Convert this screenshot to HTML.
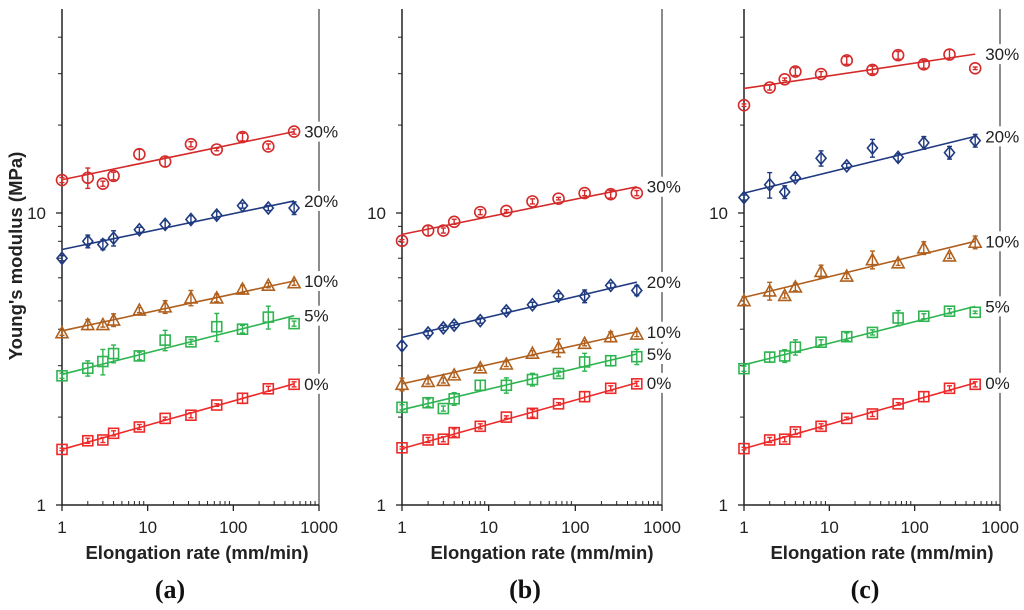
<!DOCTYPE html>
<html><head><meta charset="utf-8">
<style>
html,body{margin:0;padding:0;background:#fff;}
svg{display:block;font-family:"Liberation Sans",Arial,sans-serif;}
</style></head>
<body>
<svg id="chart" width="1024" height="610" viewBox="0 0 1024 610" xmlns="http://www.w3.org/2000/svg">
<text transform="translate(22,256) rotate(-90)" text-anchor="middle" font-size="18.5" font-weight="bold" fill="#222">Young's modulus (MPa)</text>
</svg>
<script>
const rates=[1,2,3,4,8,16,32,64,128,256,512];
const seriesNames=['30%','20%','10%','5%','0%'];
const xTickLabels=['1','10','100','1000'];
const yTickLabels=['1','10'];
// panel a
const a30=[12.97,13.2,12.6,13.4,15.9,15.0,17.2,16.5,18.2,16.9,19.0];
const a20=[7.0,8.0,7.8,8.2,8.76,9.14,9.5,9.83,10.6,10.4,10.4];
const a10=[3.89,4.15,4.15,4.3,4.65,4.77,5.12,5.12,5.49,5.66,5.77];
const a5=[2.77,2.94,3.1,3.3,3.24,3.67,3.62,4.08,4.0,4.4,4.18];
const a0=[1.55,1.66,1.67,1.76,1.85,1.98,2.03,2.2,2.32,2.5,2.59];
const aFit=[[13.0,19.0],[7.5,11.0],[3.95,5.85],[2.8,4.45],[1.55,2.6]];
// panel b
const b30=[8.03,8.71,8.71,9.33,10.07,10.16,10.96,11.2,11.7,11.6,11.7];
const b20=[3.51,3.88,4.04,4.13,4.28,4.62,4.85,5.19,5.19,5.65,5.43];
const b10=[2.59,2.65,2.67,2.79,2.95,3.04,3.31,3.46,3.58,3.77,3.85];
const b5=[2.16,2.24,2.14,2.31,2.57,2.57,2.69,2.82,3.09,3.12,3.22];
const b0=[1.57,1.67,1.68,1.77,1.86,2.0,2.06,2.22,2.35,2.51,2.6];
const bFit=[[8.45,12.3],[3.75,5.8],[2.6,3.92],[2.12,3.29],[1.56,2.62]];
// panel c
const c30=[23.4,26.9,28.7,30.5,29.9,33.3,30.9,34.7,32.3,34.9,31.3];
const c20=[11.3,12.5,11.8,13.2,15.4,14.5,16.7,15.5,17.4,16.1,17.7];
const c10=[5.01,5.41,5.22,5.58,6.31,6.08,6.92,6.75,7.59,7.13,7.94];
const c5=[2.93,3.21,3.24,3.47,3.61,3.77,3.9,4.37,4.43,4.61,4.57];
const c0=[1.56,1.67,1.68,1.78,1.86,1.98,2.05,2.22,2.35,2.51,2.59];
const cFit=[[26.7,35.0],[11.7,18.3],[5.14,8.0],[3.02,4.79],[1.56,2.62]];
// relative error half-widths
const errA=[[0.02,0.08,0.02,0.03,0.04,0.04,0.02,0.01,0.03,0.02,0.02],[0.02,0.05,0.04,0.06,0.02,0.03,0.03,0.03,0.02,0.02,0.05],[0.02,0.04,0.02,0.05,0.02,0.05,0.06,0.03,0.03,0.02,0.02],[0.02,0.06,0.1,0.07,0.03,0.08,0.02,0.11,0.03,0.09,0.02],[0.01,0.02,0.02,0.02,0.02,0.01,0.02,0.01,0.04,0.02,0.02]];
const errB=[[0.01,0.04,0.02,0.02,0.02,0.01,0.02,0.01,0.02,0.03,0.02],[0.03,0.02,0.02,0.02,0.02,0.02,0.02,0.02,0.05,0.02,0.04],[0.05,0.02,0.02,0.02,0.02,0.02,0.02,0.07,0.02,0.04,0.02],[0.02,0.03,0.02,0.05,0.04,0.06,0.05,0.02,0.07,0.04,0.06],[0.01,0.02,0.02,0.03,0.02,0.01,0.03,0.01,0.04,0.02,0.02]];
const errC=[[0.01,0.02,0.01,0.03,0.02,0.03,0.03,0.03,0.03,0.04,0.01],[0.02,0.1,0.05,0.02,0.06,0.02,0.07,0.03,0.05,0.05,0.05],[0.03,0.07,0.02,0.03,0.05,0.02,0.07,0.02,0.05,0.02,0.05],[0.02,0.04,0.05,0.06,0.02,0.03,0.02,0.06,0.02,0.02,0.01],[0.01,0.02,0.02,0.02,0.02,0.01,0.02,0.01,0.04,0.02,0.02]];

const colors=['#d42a2a','#1f3a80','#b0601e','#2eb450','#ec2a2a'];
const markers=['circle','diamond','triangle','square','square'];
const panels=[
 {id:'a',x0:62,x1:319,data:[a30,a20,a10,a5,a0],fit:aFit,err:errA,titleX:197,tagX:170},
 {id:'b',x0:402,x1:662,data:[b30,b20,b10,b5,b0],fit:bFit,err:errB,titleX:542,tagX:525},
 {id:'c',x0:744,x1:1000,data:[c30,c20,c10,c5,c0],fit:cFit,err:errC,titleX:882,tagX:865}
];
const Y1=505,Y10=213,YTOP=9;
const NS='http://www.w3.org/2000/svg';
const svg=document.getElementById('chart');
function mk(tag,attrs,parent){const e=document.createElementNS(NS,tag);for(const k in attrs)e.setAttribute(k,attrs[k]);(parent||svg).appendChild(e);return e;}
function yS(v){return Y1-(Y1-Y10)*Math.log10(v);}

panels.forEach(p=>{
  const xS=v=>p.x0+(p.x1-p.x0)*Math.log10(v)/3;
  const g=mk('g',{});
  
  
  const rb=mk('line',{x1:p.x1,y1:YTOP,x2:p.x1,y2:Y1,stroke:'#666','stroke-width':1.5},g);
  
  
  const ya=mk('line',{x1:p.x0,y1:YTOP,x2:p.x0,y2:Y1,stroke:'#222','stroke-width':1.5},g);
  
  
  const xa=mk('line',{x1:p.x0,y1:Y1,x2:p.x1,y2:Y1,stroke:'#222','stroke-width':1.5},g);
  
  
  [1,10].forEach((v,i)=>{
    mk('line',{x1:p.x0-6,y1:yS(v),x2:p.x0,y2:yS(v),stroke:'#222','stroke-width':1.3},g);
    const t=mk('text',{x:p.x0-16,y:yS(v)+6,'text-anchor':'end','font-size':17,fill:'#222'},g);
    
    
    t.textContent=yTickLabels[i];
  });
  [2,3,4,5,6,7,8,9,20,30,40].forEach(v=>{
    mk('line',{x1:p.x0-4,y1:yS(v),x2:p.x0,y2:yS(v),stroke:'#222','stroke-width':1},g);
  });
  [1,10,100,1000].forEach((v,i)=>{
    mk('line',{x1:xS(v),y1:Y1,x2:xS(v),y2:Y1+6,stroke:'#222','stroke-width':1.3},g);
    const t=mk('text',{x:xS(v),y:Y1+28,'text-anchor':'middle','font-size':17,fill:'#222'},g);
    
    
    t.textContent=xTickLabels[i];
  });
  [1,10,100].forEach(d=>{for(let k=2;k<=9;k++){const x=xS(d*k);mk('line',{x1:x,y1:Y1-4,x2:x,y2:Y1,stroke:'#222','stroke-width':1},g);}});
  const xt=mk('text',{x:p.titleX,y:559,'text-anchor':'middle','font-size':18.5,'font-weight':'bold',fill:'#222'},g);
  
  
  xt.textContent='Elongation rate (mm/min)';
  const tg=mk('text',{x:p.tagX,y:598,'text-anchor':'middle','font-size':26,'font-weight':'bold','font-family':'"Liberation Serif",serif',fill:'#111'},g);
  
  
  tg.textContent='('+p.id+')';
  p.data.forEach((vals,si)=>{
    const c=colors[si];
    const sg=mk('g',{stroke:c,fill:'none','stroke-width':1.6},g);
    
    
    const f=p.fit[si];
    const fl=mk('line',{x1:xS(rates[0]),y1:yS(f[0]),x2:xS(rates[rates.length-1]),y2:yS(f[1]),'stroke-width':1.6},sg);
    
    
    vals.forEach((v,i)=>{
      const x=xS(rates[i]),y=yS(v);
      const e=p.err[si][i];
      const yt=yS(v*(1+e)),yb=yS(v*(1-e));
      mk('line',{x1:x,y1:yt,x2:x,y2:yb,'stroke-width':1.4},sg);
      mk('line',{x1:x-2.5,y1:yt,x2:x+2.5,y2:yt,'stroke-width':1.4},sg);
      mk('line',{x1:x-2.5,y1:yb,x2:x+2.5,y2:yb,'stroke-width':1.4},sg);
      let m;
      const mt=markers[si];
      if(mt==='circle') m=mk('circle',{cx:x,cy:y,r:5.5},sg);
      else if(mt==='diamond') m=mk('polygon',{points:`${x},${y-6} ${x+5},${y} ${x},${y+6} ${x-5},${y}`},sg);
      else if(mt==='triangle') m=mk('polygon',{points:`${x},${y-6} ${x+6},${y+5} ${x-6},${y+5}`},sg);
      else m=mk('rect',{x:x-5,y:y-5,width:10,height:10},sg);
      
      
    });
    const lx=xS(rates[rates.length-1])+10, ly=yS(f[1]);
    mk('rect',{x:lx-1,y:ly-10,width:40,height:20,fill:'#fff',stroke:'none'},g);
    const lt=mk('text',{x:lx,y:ly+6,'font-size':17,fill:'#222'},g);
    
    
    lt.textContent=seriesNames[si];
  });
});
</script>
</body></html>
